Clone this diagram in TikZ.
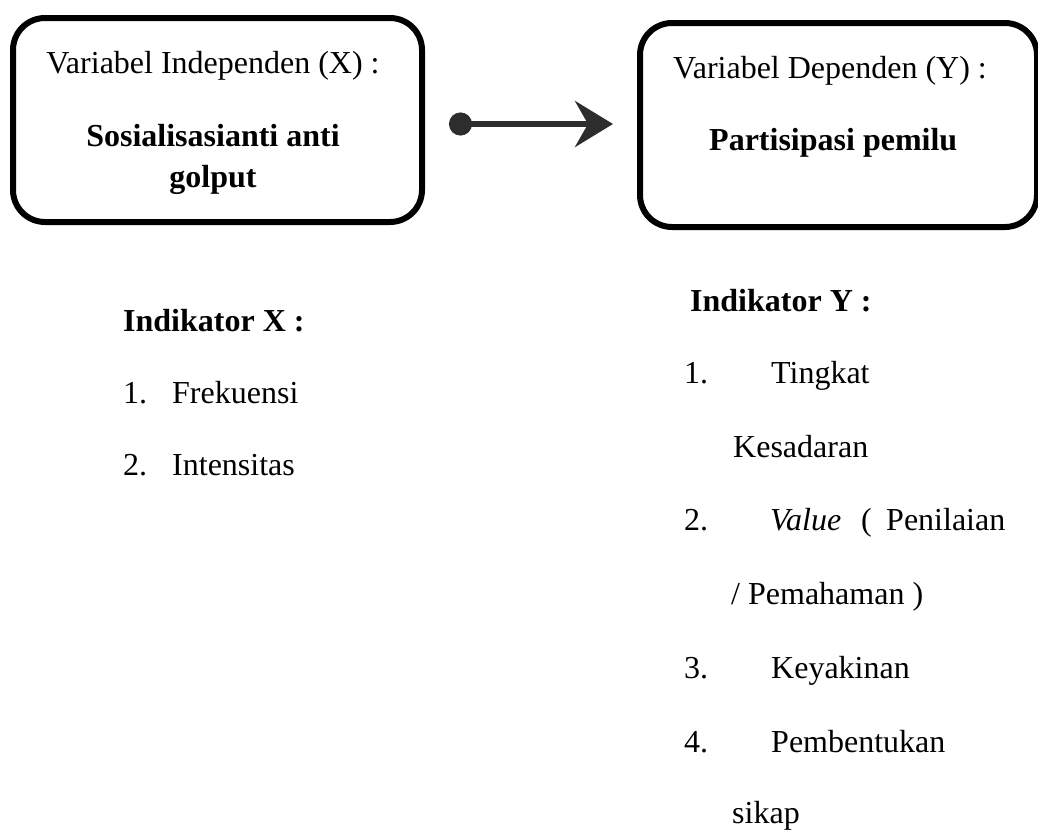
\documentclass[tikz,border=0pt]{standalone}
\usepackage{fontspec}
\setmainfont{Liberation Serif}
\usetikzlibrary{arrows.meta}
\begin{document}
\begin{tikzpicture}[x=1pt,y=-1pt,
  varbox/.style={draw=black,line width=6pt,rounded corners=32pt,inner sep=0pt},
  txt/.style={anchor=base west,inner sep=0pt,font=\fontsize{32}{38}\selectfont},
  btxt/.style={txt,font=\fontsize{32}{38}\selectfont\bfseries},
  ctxt/.style={anchor=base,inner sep=0pt,font=\fontsize{32}{38}\selectfont},
  conn/.style={line width=6pt,draw={rgb,255:red,45;green,45;blue,45},
    {Circle[length=23pt,width=23pt]}-{Stealth[length=38pt,width=46pt,inset=13pt]}}
  ]
\useasboundingbox (0,0) rectangle (1038,830);
\fill[white] (0,0) rectangle (1038,830);
% boxes
\draw[varbox] (13,18) rectangle (422,222);
\draw[varbox] (640,23) rectangle (1037,227);
\node[ctxt] (vx) at (213,73) {Variabel Independen (X) :};
\node[ctxt,font=\fontsize{32}{38}\selectfont\bfseries] (sx1) at (213,146) {Sosialisasianti anti};
\node[ctxt,font=\fontsize{32}{38}\selectfont\bfseries] (sx2) at (213,187) {golput};
\node[txt] (vy) at (673,78) {Variabel Dependen (Y) :};
\node[btxt] (py) at (709,150) {Partisipasi pemilu};
% connector
\coordinate (cs) at (449,124);
\coordinate (ce) at (613,124);
\draw[conn] (cs) -- (ce);
% indicators X
\node[btxt] (ix) at (123,331) {Indikator X :};
\node[txt] (x1n) at (123,403) {1.};
\node[txt] (x1) at (172,403) {Frekuensi};
\node[txt] (x2n) at (123,475) {2.};
\node[txt] (x2) at (172,475) {Intensitas};
% indicators Y
\node[btxt] (iy) at (690,311) {Indikator Y :};
\node[txt] (y1n) at (684,383) {1.};
\node[txt] (y1) at (771,383) {Tingkat};
\node[txt] (y1b) at (733,457) {Kesadaran};
\node[txt] (y2n) at (684,530) {2.};
\node[txt] (y2) at (770,530) {\textit{Value}};
\node[txt] (y2p) at (861,530) {(};
\node[txt] (y2c) at (886,530) {Penilaian};
\node[txt] (y2b) at (731,604) {/ Pemahaman )};
\node[txt] (y3n) at (684,678) {3.};
\node[txt] (y3) at (771,678) {Keyakinan};
\node[txt] (y4n) at (684,752) {4.};
\node[txt] (y4) at (771,752) {Pembentukan};
\node[txt] (y4b) at (732,823) {sikap};
\end{tikzpicture}
\end{document}
